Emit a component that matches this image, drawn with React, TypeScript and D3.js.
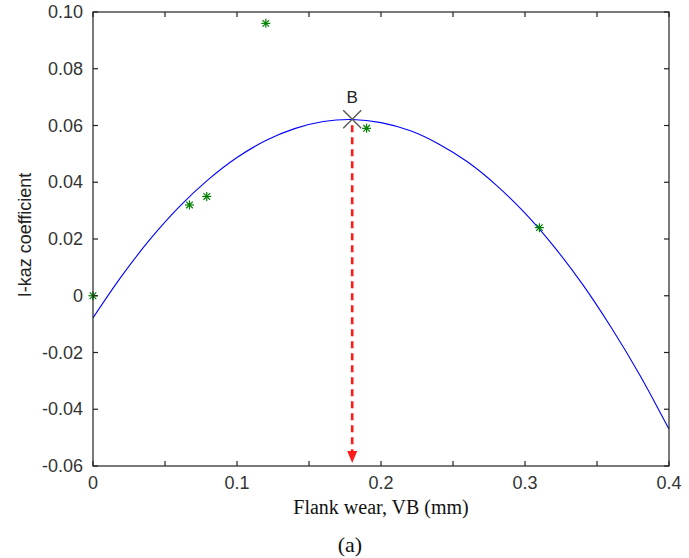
// Flank wear vs I-kaz coefficient, with quadratic trend and the peak marked "B"
import React from 'react';
import * as d3 from 'd3';

// measured points
const wear = [0, 0.067, 0.079, 0.12, 0.19, 0.31];
const ikaz = [0, 0.032, 0.035, 0.096, 0.059, 0.024];

// trend line
const fitWear = [0, 0.02, 0.04, 0.06, 0.08, 0.1, 0.12, 0.14, 0.16, 0.18, 0.2,
  0.22, 0.24, 0.26, 0.28, 0.3, 0.32, 0.34, 0.36, 0.38, 0.4];
const fitIkaz = [-0.0078, 0.007, 0.0201, 0.0314, 0.0409, 0.0487, 0.0547, 0.0589, 0.0614, 0.0621, 0.061,
  0.0582, 0.0535, 0.0472, 0.039, 0.0291, 0.0174, 0.004, -0.0113, -0.0282, -0.047];

// peak point B
const peakWear = 0.18;
const peakIkaz = 0.0622;

const xTicks = [0, 0.05, 0.1, 0.15, 0.2, 0.25, 0.3, 0.35, 0.4];
const xLabels = ['0', '0.1', '0.2', '0.3', '0.4'];
const yTicks = [-0.06, -0.04, -0.02, 0, 0.02, 0.04, 0.06, 0.08, 0.1];
const yLabels = ['-0.06', '-0.04', '-0.02', '0', '0.02', '0.04', '0.06', '0.08', '0.10'];

const W = 689, H = 558;
const left = 93, right = 669, top = 12, bottom = 466;
const sans = '"Liberation Sans", Arial, sans-serif';
const serif = '"Liberation Serif", "Times New Roman", serif';

export default function App() {
  const x = d3.scaleLinear().domain([0, 0.4]).range([left, right]);
  const y = d3.scaleLinear().domain([-0.06, 0.1]).range([bottom, top]);

  const line = d3.line<number>()
    .x((d, i) => x(fitWear[i]))
    .y(d => y(d))
    .curve(d3.curveCatmullRom);

  const tick = 5;
  const px = x(peakWear), py = y(peakIkaz);

  return (
    <svg width={W} height={H} style={{ position: 'absolute', left: 0, top: 0, background: '#fff' }}>
      {/* trend curve */}
      <path d={line(fitIkaz) || ''} fill="none" stroke="#0000ff" strokeWidth={1.1} />

      {/* dashed arrow from peak to the axis */}
      <line x1={px} x2={px} y1={py + 6} y2={bottom - 14} stroke="#ff1a1a" strokeWidth={2.6} strokeDasharray="7 5" />
      <path d={`M${px - 5},${bottom - 15} L${px + 5},${bottom - 15} L${px},${bottom - 3} Z`} fill="#ff1a1a" />

      {/* measured points */}
      {wear.map((w, i) => {
        const cx = x(w), cy = y(ikaz[i]), r = 4.5, d = 3.3;
        return (
          <g key={i} stroke="#008000" strokeWidth={1.2}>
            <line x1={cx - r} x2={cx + r} y1={cy} y2={cy} />
            <line x1={cx} x2={cx} y1={cy - r} y2={cy + r} />
            <line x1={cx - d} x2={cx + d} y1={cy - d} y2={cy + d} />
            <line x1={cx - d} x2={cx + d} y1={cy + d} y2={cy - d} />
          </g>
        );
      })}

      {/* peak marker */}
      <g stroke="#555" strokeWidth={1.3}>
        <line x1={px - 9} x2={px + 9} y1={py - 9} y2={py + 9} />
        <line x1={px - 9} x2={px + 9} y1={py + 9} y2={py - 9} />
      </g>
      <text x={px} y={py - 16} textAnchor="middle" fontFamily={sans} fontSize={17} fill="#222">B</text>

      {/* box and ticks */}
      <rect x={left} y={top} width={right - left} height={bottom - top} fill="none" stroke="#222" strokeWidth={1.2} />
      {xTicks.map(t => (
        <g key={'x' + t} stroke="#222" strokeWidth={1.2}>
          <line x1={x(t)} x2={x(t)} y1={bottom} y2={bottom - tick} />
          <line x1={x(t)} x2={x(t)} y1={top} y2={top + tick} />
        </g>
      ))}
      {yTicks.map(t => (
        <g key={'y' + t} stroke="#222" strokeWidth={1.2}>
          <line x1={left} x2={left + tick} y1={y(t)} y2={y(t)} />
          <line x1={right} x2={right - tick} y1={y(t)} y2={y(t)} />
        </g>
      ))}
      {xLabels.map(l => (
        <text key={'xl' + l} x={x(+l)} y={bottom + 23} textAnchor="middle" fontFamily={sans} fontSize={18} fill="#333">{l}</text>
      ))}
      {yLabels.map(l => (
        <text key={'yl' + l} x={left - 10} y={y(+l) + 6} textAnchor="end" fontFamily={sans} fontSize={18} fill="#333">{l}</text>
      ))}

      {/* axis titles */}
      <text transform={`translate(31,${(top + bottom) / 2 - 4}) rotate(-90)`} textAnchor="middle" fontFamily={sans} fontSize={18} fill="#222">I-kaz coefficient</text>
      <text x={(left + right) / 2} y={514} textAnchor="middle" fontFamily={serif} fontSize={20} fill="#111">Flank wear, VB (mm)</text>
      <text x={350} y={552} textAnchor="middle" fontFamily={serif} fontSize={22} fill="#111">(a)</text>
    </svg>
  );
}
